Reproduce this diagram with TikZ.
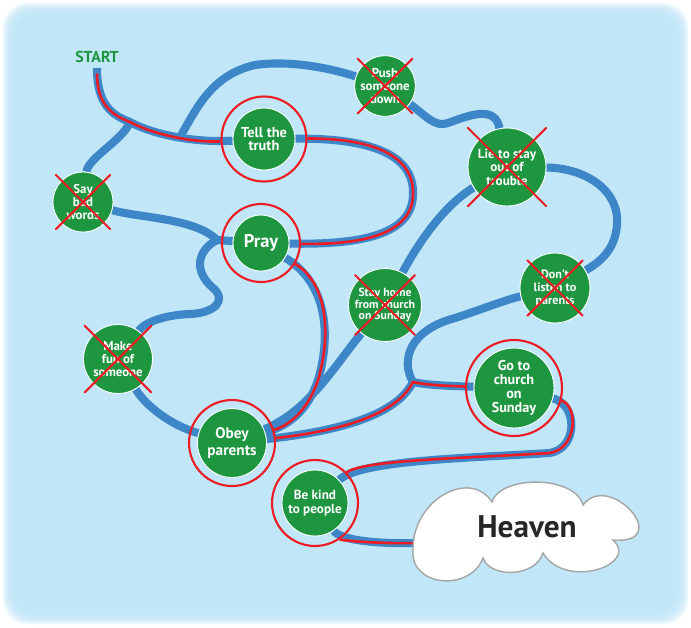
\documentclass[tikz,border=0pt]{standalone}
\usepackage{fontspec}
\setmainfont{PT Sans}
\usetikzlibrary{positioning}

\definecolor{sky}{RGB}{191,230,248}
\definecolor{roadblue}{RGB}{61,135,200}
\definecolor{stopgreen}{RGB}{30,150,64}
\definecolor{wayred}{RGB}{237,28,36}
\definecolor{cloudgray}{RGB}{165,165,165}

\newcommand{\sz}[2]{\bfseries\fontsize{#1}{#2}\selectfont}

\pgfdeclarelayer{skylayer}
\pgfdeclarelayer{roadlayer}
\pgfsetlayers{skylayer,roadlayer,main}

\begin{document}
\begin{tikzpicture}[x=0.02cm,y=-0.02cm,line cap=round,
	road/.style={draw=roadblue, line width=4.6pt},
	goodway/.style={draw=wayred, line width=1.5pt},
	stop/.style={circle, fill=stopgreen, draw=white, line width=0.5pt, text=white, align=center, inner sep=0pt},
	ring/.style={circle, draw=wayred, line width=1.2pt, inner sep=0pt},
	cross/.style={draw=wayred, line width=1.2pt}]
	
	\useasboundingbox (0,0) rectangle (691,627);
	
	\node (start) at (97,57) [text=stopgreen, font=\sz{9}{9}] {START};
	\coordinate (st) at (97,68);
	
	\node (tell) at (264,139) [stop, minimum size=1.24cm, font=\sz{8.2}{7.9}] {Tell the\\truth};
	\node (push) at (385,86) [stop, minimum size=1.2cm, font=\sz{7.3}{7.4}] {Push\\someone\\down};
	\node (saybad) at (83,202) [stop, minimum size=1.2cm, font=\sz{7.3}{7.4}] {Say\\bad\\words};
	\node (pray) at (261,243) [stop, minimum size=1.12cm, font=\sz{10.5}{10}] {Pray};
	\node (lie) at (507,167) [stop, minimum size=1.56cm, font=\sz{7.5}{7.7}] {Lie to stay\\out of\\trouble};
	\node (makefun) at (118,359) [stop, minimum size=1.38cm, font=\sz{7.3}{7.4}] {Make\\fun of\\someone};
	\node (obey) at (232,443) [stop, minimum size=1.38cm, font=\sz{8.7}{9.4}] {Obey\\parents};
	\node (stayhome) at (385,305) [stop, minimum size=1.46cm, font=\sz{6.7}{6.8}] {Stay home\\from church\\on Sunday};
	\node (dontlisten) at (555,288) [stop, minimum size=1.4cm, font=\sz{6.9}{7.4}] {Don't\\listen to\\parents};
	\node (church) at (514,388) [stop, minimum size=1.6cm, font=\sz{8.1}{8.1}] {Go to\\church\\on\\Sunday};
	\node (kind) at (315,503) [stop, minimum size=1.32cm, font=\sz{7.5}{7.6}] {Be kind\\to people};
	
	\node (tellR) at (tell) [ring, minimum size=1.7cm] {};
	\node (prayR) at (pray) [ring, minimum size=1.56cm] {};
	\node (obeyR) at (obey) [ring, minimum size=1.72cm] {};
	\node (churchR) at (church) [ring, minimum size=1.92cm] {};
	\node (kindR) at (kind) [ring, minimum size=1.72cm] {};
	
	\foreach \n/\e in {saybad/4.5pt, push/4.5pt, lie/9pt, makefun/7pt, stayhome/3pt, dontlisten/2pt} {
		\draw [cross, shorten <=-\e, shorten >=-\e] (\n.north west) -- (\n.south east);
		\draw [cross, shorten <=-\e, shorten >=-\e] (\n.north east) -- (\n.south west);
	}
	
	% heaven
	\coordinate (hv) at (417,543);
	\draw [fill=white, draw=cloudgray, line width=0.8pt] (492,502)
		.. controls (500,475) and (575,475) .. (583,505)
		.. controls (610,470) and (675,545) .. (613,540)
		.. controls (640,565) and (565,590) .. (543,553)
		.. controls (535,578) and (490,578) .. (483,558)
		.. controls (470,592) and (410,587) .. (413,550)
		.. controls (412,500) and (470,468) .. cycle;
	\node (heaven) at (527,527) [text=black!85, font=\sz{17.8}{18}] {Heaven};
	
	\begin{pgfonlayer}{roadlayer}
		\coordinate (j1) at (130,122);
		\coordinate (j2) at (180,137);
		\coordinate (j3) at (217,240);
		\coordinate (j4) at (413,382);
		
		\draw [road] (st) .. controls (97,105) and (112,115) .. (j1) .. controls (150,133) and (190,143) .. (tell);
		\draw [road] (j1) .. controls (123,140) and (88,158) .. (saybad);
		\draw [road] (j2) .. controls (195,112) and (210,75) .. (255,65) .. controls (290,60) and (330,68) .. (push);
		\draw [road] (push) .. controls (425,115) and (435,128) .. (448,123) .. controls (470,115) and (495,105) .. (lie);
		\draw [road] (tell) .. controls (360,138) and (415,150) .. (413,195) .. controls (412,235) and (360,245) .. (pray);
		\draw [road] (saybad) .. controls (140,218) and (195,218) .. (j3) -- (pray);
		\draw [road] (j3) .. controls (198,250) and (193,270) .. (212,287) .. controls (228,300) and (215,313) .. (190,314) .. controls (165,315) and (145,322) .. (makefun);
		\draw [road] (makefun) .. controls (145,405) and (170,425) .. (obey);
		\draw [road] (pray) .. controls (330,285) and (330,340) .. (318,380) .. controls (308,410) and (290,425) .. (obey);
		\draw [road] (stayhome) .. controls (335,365) and (310,410) .. (obey);
		\draw [road] (lie) .. controls (445,205) and (420,240) .. (stayhome);
		\draw [road] (obey) .. controls (330,432) and (395,418) .. (j4) .. controls (425,385) and (450,386) .. (church);
		\draw [road] (j4) .. controls (400,360) and (410,330) .. (455,318) .. controls (480,310) and (505,300) .. (dontlisten);
		\draw [road] (lie) .. controls (585,168) and (620,190) .. (617,225) .. controls (615,250) and (600,262) .. (dontlisten);
		\draw [road] (church) .. controls (578,405) and (578,448) .. (550,453) .. controls (470,458) and (360,460) .. (kind);
		\draw [road] (kind) .. controls (340,540) and (375,544) .. (hv);
		
		% the good way
		\draw [goodway, shorten <=3pt] (st) .. controls (97,105) and (112,115) .. (j1) .. controls (150,133) and (190,143) .. (tellR);
		\draw [goodway] (tellR) .. controls (360,138) and (415,150) .. (413,195) .. controls (412,235) and (360,245) .. (prayR);
		\draw [goodway] (prayR) .. controls (330,285) and (330,340) .. (318,380) .. controls (308,410) and (290,425) .. (obeyR);
		\draw [goodway] (obeyR) .. controls (330,432) and (395,418) .. (j4) .. controls (425,385) and (450,386) .. (churchR);
		\draw [goodway] (churchR) .. controls (578,405) and (578,448) .. (550,453) .. controls (470,458) and (360,460) .. (kindR);
		\draw [goodway] (kindR) .. controls (340,540) and (375,544) .. (hv);
	\end{pgfonlayer}
	
	\begin{pgfonlayer}{skylayer}
		\fill [white] (0,0) rectangle (691,627);
		\foreach \i in {0,...,9}
			\fill [sky, fill opacity=0.28, rounded corners=14pt] (3+1.5*\i,3+1.5*\i) rectangle (688-1.5*\i,624-1.5*\i);
	\end{pgfonlayer}
	
\end{tikzpicture}
\end{document}
